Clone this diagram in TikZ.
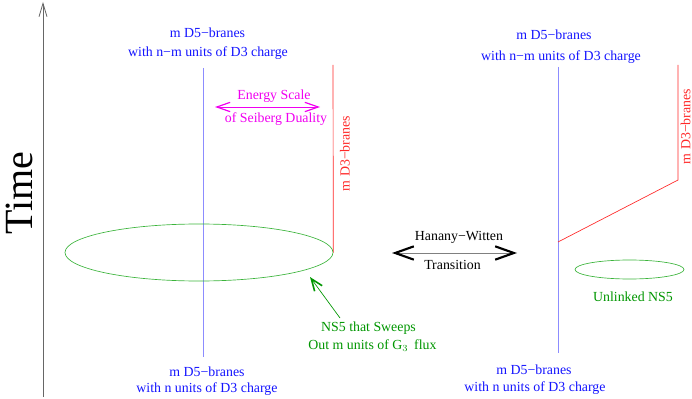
\documentclass[tikz,border=0pt]{standalone}
\usepackage{fontspec}
\setmainfont{Liberation Serif}
\usetikzlibrary{arrows.meta,shapes.geometric}
\definecolor{tblue}{RGB}{20,20,255}
\definecolor{lblue}{RGB}{140,140,255}
\definecolor{tgreen}{RGB}{0,150,0}
\definecolor{lgreen}{RGB}{60,180,60}
\definecolor{tred}{RGB}{255,40,40}
\definecolor{tmag}{RGB}{240,0,240}
\tikzset{
  lbl/.style={font=\fontsize{10.4}{12}\selectfont, inner sep=0pt, align=center},
  bluelbl/.style={lbl, text=tblue},
  d5/.style={draw=lblue, line width=0.6pt},
  d3/.style={draw=tred, line width=0.5pt},
  ns5/.style={draw=lgreen, line width=0.5pt},
}
\begin{document}
\begin{tikzpicture}[x=0.75pt,y=-0.75pt]
\useasboundingbox (0,0) rectangle (692,399);
% time axis
\coordinate (tb) at (43,397);
\coordinate (tt) at (43,2);
\draw[line width=0.6pt, -{Straight Barb[length=10pt,width=6pt,line width=0.6pt]}, draw=gray!80!black] (tb) -- (tt);
\node[font=\fontsize{30}{30}\selectfont, rotate=90, inner sep=0pt] (time) at (19,193) {Time};

% left configuration
\node[bluelbl] (lt1) at (207.5,33) {m D5−branes};
\node[bluelbl] (lt2) at (208,53) {with n−m units of D3 charge};
\coordinate (ld5t) at (203,68);
\coordinate (ld5b) at (203,357);
\draw[d5] (ld5t) -- (ld5b);
\node[ns5, ellipse, minimum width=201pt, minimum height=42.75pt, inner sep=0pt] (lell) at (199,252.5) {};
\coordinate (ld3t) at (333,65);
\draw[d3] (ld3t) -- (lell.east);
\node[lbl, text=tred, rotate=90] (ld3lab) at (345,153.5) {m D3−branes};
\node[lbl, text=tmag] (es1) at (274,96) {Energy Scale};
\node[lbl, text=tmag] (es2) at (276,119) {of Seiberg Duality};
\coordinate (esl) at (215,107);
\coordinate (esr) at (320,107);
\draw[tmag, line width=0.5pt, {Straight Barb[length=10pt,width=7pt,line width=0.9pt]}-{Straight Barb[length=10pt,width=7pt,line width=0.9pt]}] (esl) -- (esr);
\node[lbl, text=tgreen] (sw1) at (368.5,328) {NS5 that Sweeps};
\node[lbl, text=tgreen] (sw2) at (372.5,346) {Out m units of G$_3$\, flux};
\coordinate (swtail) at (340,318);
\coordinate (swtip) at (310,277);
\draw[tgreen, line width=0.5pt, -{Straight Barb[length=9pt,width=7pt,line width=1.2pt]}] (swtail) -- (swtip);
\node[bluelbl] (lb1) at (207,372) {m D5−branes};
\node[bluelbl] (lb2) at (207,389) {with n units of D3 charge};

% transition
\coordinate (hwl) at (392,253);
\coordinate (hwr) at (517,253);
\draw[gray, line width=0.6pt, {Straight Barb[length=14pt,width=10pt,line width=1.6pt,black]}-{Straight Barb[length=14pt,width=10pt,line width=1.6pt,black]}] (hwl) -- (hwr);
\node[lbl] (hw1) at (459,237) {Hanany−Witten};
\node[lbl] (hw2) at (452.5,265) {Transition};

% right configuration
\node[bluelbl] (rt1) at (554,35) {m D5−branes};
\node[bluelbl] (rt2) at (561,57) {with n−m units of D3 charge};
\coordinate (rd5t) at (558,67);
\coordinate (rd5b) at (558,353);
\draw[d5] (rd5t) -- (rd5b);
\coordinate (rd3t) at (678,65);
\coordinate (rd3k) at (678,180);
\coordinate (rd3e) at (558,242);
\draw[d3] (rd3t) -- (rd3k) -- (rd3e);
\node[lbl, text=tred, rotate=90] (rd3lab) at (685.5,126.5) {m D3−branes};
\node[ns5, ellipse, minimum width=81.75pt, minimum height=14.25pt, inner sep=0pt] (rell) at (629.5,269.5) {};
\node[lbl, text=tgreen] (unl) at (633,297) {Unlinked NS5};
\node[bluelbl] (rb1) at (534,370) {m D5−branes};
\node[bluelbl] (rb2) at (535,388) {with n units of D3 charge};
\end{tikzpicture}
\end{document}
